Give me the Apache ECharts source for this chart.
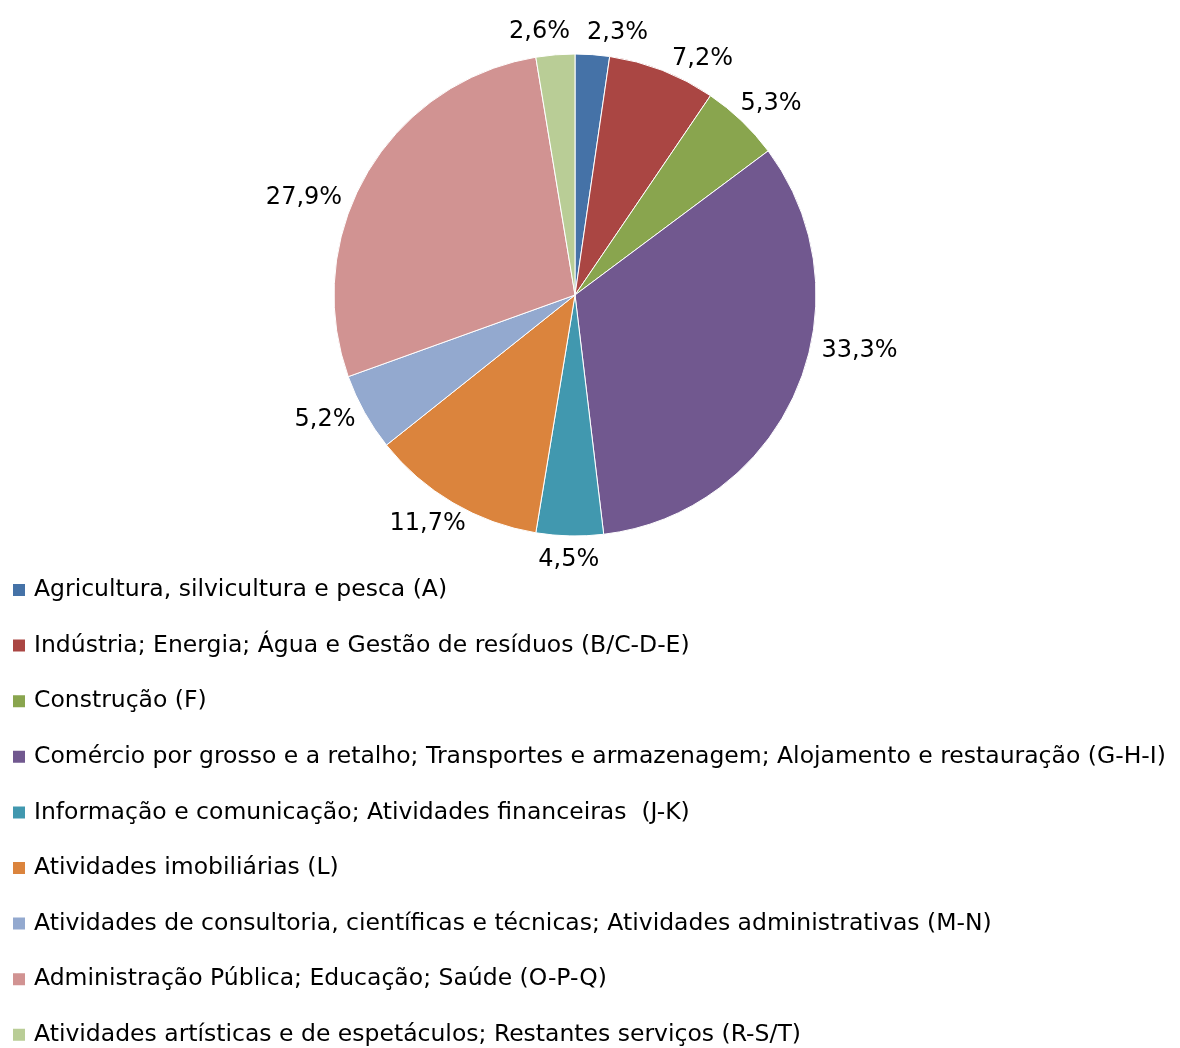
<!DOCTYPE html>
<html>
<head>
<meta charset="utf-8">
<script src="https://cdn.jsdelivr.net/npm/echarts@6/dist/echarts.min.js"></script>
<style>
  html, body { margin: 0; padding: 0; background: #fff; }
  #chart { width: 1180px; height: 1048px; }
</style>
</head>
<body>
<div id="chart"></div>
<script>
// categorias (setores) e percentagens
var categories = [
  'Agricultura, silvicultura e pesca (A)',
  'Indústria; Energia; Água e Gestão de resíduos (B/C-D-E)',
  'Construção (F)',
  'Comércio por grosso e a retalho; Transportes e armazenagem; Alojamento e restauração (G-H-I)',
  'Informação e comunicação; Atividades financeiras  (J-K)',
  'Atividades imobiliárias (L)',
  'Atividades de consultoria, científicas e técnicas; Atividades administrativas (M-N)',
  'Administração Pública; Educação; Saúde (O-P-Q)',
  'Atividades artísticas e de espetáculos; Restantes serviços (R-S/T)'
];
var values = [2.3, 7.2, 5.3, 33.3, 4.5, 11.7, 5.2, 27.9, 2.6];
var colors = ['#4572A7', '#AA4643', '#89A54E', '#71588F', '#4198AF', '#DB843D', '#93A9CF', '#D19392', '#B9CD96'];
// pequeno desvio angular (graus) dos rótulos, tipo "melhor ajuste" do Excel
var labelShift = [4.5, 5.5, 0, -11, 0, 0, 1, -9, -2.5];

var chart = echarts.init(document.getElementById('chart'));
var font = 'DejaVu Sans, Verdana, sans-serif';
var cx = 575, cy = 295, r = 241;

// ângulo médio de cada fatia (a partir do topo, sentido horário)
var total = values.reduce(function (a, b) { return a + b; }, 0);
var midAngles = [];
var acc = 0;
values.forEach(function (v, i) {
  midAngles.push((acc + v / 2) / total * 2 * Math.PI + labelShift[i] * Math.PI / 180);
  acc += v;
});

var option = {
  color: colors,
  animation: false,
  legend: {
    orient: 'vertical',
    left: 6,
    top: 572,
    height: 480,
    itemWidth: 14,
    itemHeight: 14,
    itemGap: 29.6,
    icon: 'rect',
    textStyle: { fontFamily: font, fontSize: 23.5, color: '#000', lineHeight: 26, padding: [0, 0, 0, 3] },
    data: categories
  },
  series: [{
    type: 'pie',
    center: [cx, cy],
    radius: r,
    startAngle: 90,
    clockwise: true,
    itemStyle: { borderColor: '#fff', borderWidth: 1 },
    label: {
      position: 'outside',
      fontFamily: font,
      fontSize: 24,
      color: '#000',
      formatter: function (p) { return p.value.toFixed(1).replace('.', ',') + '%'; }
    },
    labelLine: { show: false, length: 8, length2: 0 },
    labelLayout: function (p) {
      var a = midAngles[p.dataIndex];
      var s = Math.sin(a), c = -Math.cos(a);
      var d = r + 12;
      var w = p.labelRect.width, h = p.labelRect.height;
      return {
        x: cx + s * (d + w / 2),
        y: cy + c * (d + h / 2),
        align: 'center',
        verticalAlign: 'middle'
      };
    },
    data: categories.map(function (c, i) { return { name: c, value: values[i] }; })
  }]
};

chart.setOption(option);
</script>
</body>
</html>
